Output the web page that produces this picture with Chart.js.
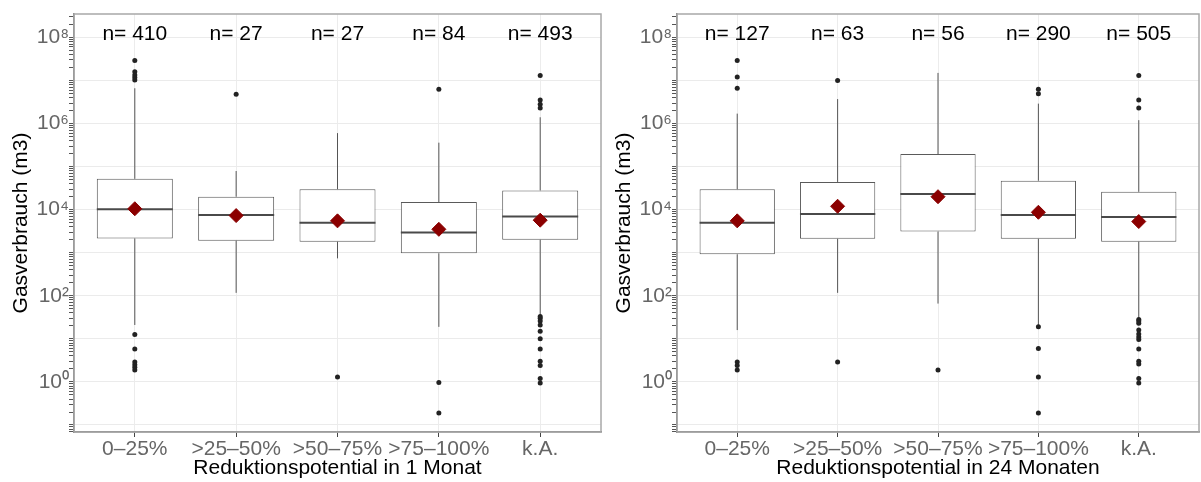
<!DOCTYPE html>
<html>
<head>
<meta charset="utf-8">
<script src="https://cdn.jsdelivr.net/npm/chart.js@4/dist/chart.umd.min.js"></script>
<style>
  body { margin: 0; background: #fff; }
  .panel { position: absolute; top: 0; height: 482px; }
</style>
</head>
<body>
<div class="panel" style="left:0;width:603px"><canvas id="chart1" width="603" height="482"></canvas></div>
<div class="panel" style="left:603px;width:598px"><canvas id="chart2" width="598" height="482"></canvas></div>
<script>
// Kategorien (x-Achse)
const kategorien = ['0–25%', '>25–50%', '>50–75%', '>75–100%', 'k.A.'];
const yDekaden = [1e-1, 1e0, 1e1, 1e2, 1e3, 1e4, 1e5, 1e6, 1e7, 1e8];
const yMin = 0.0687, yMax = 3.5e8;

// Reduktionspotential in 1 Monat
const n1 = [410, 27, 27, 84, 493];
const q1_1 = [2150, 1900, 1800, 970, 2000];
const median1 = [10200, 7500, 5000, 2970, 6900];
const q3_1 = [52000, 20000, 30000, 15000, 28000];
const wUnten1 = [21, 117, 740, 19, 36];
const wOben1 = [6.6e6, 7.9e4, 6.0e5, 3.6e5, 1.4e6];
const mittel1 = [10500, 7300, 5500, 3500, 5700];
const ausreisser1 = [
  [2.9e7, 1.6e7, 1.35e7, 1.17e7, 1.02e7, 12.6, 5.8, 2.9, 2.5, 2.2, 1.9],
  [4.8e6],
  [1.3],
  [6.3e6, 0.97, 0.19],
  [1.3e7, 3.5e6, 2.8e6, 2.3e6, 33, 30, 26, 21, 15, 10, 5.8, 3.0, 2.4, 1.2, 0.95]
];

// Reduktionspotential in 24 Monaten
const n2 = [127, 63, 56, 290, 505];
const q1_2 = [920, 2100, 3100, 2100, 1800];
const median2 = [5000, 7900, 23000, 7500, 6800];
const q3_2 = [30000, 44000, 195000, 47000, 26000];
const wUnten2 = [16, 117, 66, 21, 31];
const wOben2 = [1.7e6, 3.7e6, 1.5e7, 2.9e6, 1.2e6];
const mittel2 = [5500, 12000, 20000, 8700, 5300];
const ausreisser2 = [
  [2.9e7, 1.2e7, 6.6e6, 2.9, 2.4, 1.9],
  [1.0e7, 2.9],
  [1.9],
  [6.3e6, 4.9e6, 19, 6.0, 1.3, 0.19],
  [1.3e7, 3.5e6, 2.3e6, 28, 26, 23, 16, 13, 11, 9.7, 5.8, 3.0, 2.6, 1.2, 0.95]
];

const hoch = ['⁰', '¹', '²', '³', '⁴', '⁵', '⁶', '⁷', '⁸'];
const schrift = "'Liberation Sans', Arial, sans-serif";

function istDekade(v) {
  const l = Math.log10(v);
  return Math.abs(l - Math.round(l)) < 1e-6;
}

// alle Teilstriche der log-Achse (1..9 x 10^n)
function yTeilstriche() {
  let t = [];
  for (let i = 0; i < yDekaden.length; i++) {
    for (let m = 1; m < 10; m++) {
      const v = m * yDekaden[i];
      if (v >= yMin && v <= yMax) t.push({ value: v });
    }
  }
  for (let m = 7; m < 10; m++) {
    const v = m * 0.01;
    if (v >= yMin) t.unshift({ value: v });
  }
  t.sort((a, b) => a.value - b.value);
  return t;
}

// Whisker, Median, n= Beschriftung und Rahmen
const boxPlugin = {
  id: 'boxPlugin',
  afterDatasetDraw(chart, args, opts) {
    if (args.index !== 2) return;
    const ctx = chart.ctx;
    const x = chart.scales.x, y = chart.scales.y;
    const meta = chart.getDatasetMeta(2);
    ctx.save();
    for (let i = 0; i < kategorien.length; i++) {
      const px = x.getPixelForValue(i + 1);
      const bar = meta.data[i];
      ctx.strokeStyle = '#555';
      ctx.lineWidth = 1;
      ctx.beginPath();
      ctx.moveTo(px, y.getPixelForValue(opts.q3[i]));
      ctx.lineTo(px, y.getPixelForValue(opts.wOben[i]));
      ctx.moveTo(px, y.getPixelForValue(opts.q1[i]));
      ctx.lineTo(px, y.getPixelForValue(opts.wUnten[i]));
      ctx.stroke();
      ctx.lineWidth = 2;
      ctx.strokeStyle = '#4a4a4a';
      ctx.beginPath();
      const py = y.getPixelForValue(opts.median[i]);
      ctx.moveTo(px - bar.width / 2, py);
      ctx.lineTo(px + bar.width / 2, py);
      ctx.stroke();
    }
    ctx.restore();
  },
  afterDraw(chart, args, opts) {
    const ctx = chart.ctx;
    const a = chart.chartArea;
    const x = chart.scales.x;
    ctx.save();
    ctx.strokeStyle = '#a8a8a8';
    ctx.lineWidth = 1.5;
    ctx.strokeRect(a.left, a.top, a.right - a.left, a.bottom - a.top);
    ctx.fillStyle = '#000';
    ctx.font = '21px ' + schrift;
    ctx.textAlign = 'center';
    ctx.textBaseline = 'middle';
    for (let i = 0; i < kategorien.length; i++) {
      ctx.fillText('n= ' + opts.n[i], x.getPixelForValue(i + 1), a.top + 20);
    }
    ctx.restore();
  }
};

function zeichne(id, titel, d) {
  const ctx = document.getElementById(id).getContext('2d');
  const ausr = [];
  d.ausreisser.forEach((liste, i) => liste.forEach(v => ausr.push({ x: i + 1, y: v })));
  return new Chart(ctx, {
    type: 'bar',
    data: {
      datasets: [{
        type: 'scatter',
        label: 'Mittelwert',
        data: d.mittel.map((v, i) => ({ x: i + 1, y: v })),
        pointStyle: 'rectRot',
        pointRadius: 7,
        backgroundColor: '#8b0000',
        borderColor: '#8b0000'
      }, {
        type: 'scatter',
        label: 'Ausreißer',
        data: ausr,
        pointRadius: 2.5,
        backgroundColor: '#222',
        borderColor: '#222',
        borderWidth: 0
      }, {
        type: 'bar',
        label: 'Box',
        data: d.q1.map((v, i) => ({ x: i + 1, y: [v, d.q3[i]] })),
        backgroundColor: '#fff',
        borderColor: '#5a5a5a',
        borderWidth: 1,
        borderSkipped: false,
        barPercentage: 0.75,
        categoryPercentage: 1
      }]
    },
    options: {
      responsive: false,
      animation: false,
      layout: { autoPadding: false, padding: { top: 14, right: 2, left: 0, bottom: 0 } },
      plugins: {
        legend: { display: false },
        tooltip: { enabled: false },
        boxPlugin: d
      },
      scales: {
        x: {
          type: 'linear',
          min: 0.4,
          max: 5.6,
          offset: false,
          afterFit: s => { s.height = 50; s.paddingLeft = 0; s.paddingRight = 0; },
          afterBuildTicks: axis => { axis.ticks = [1, 2, 3, 4, 5].map(v => ({ value: v })); },
          ticks: {
            callback: v => kategorien[v - 1],
            color: '#666',
            font: { size: 21, family: schrift },
            padding: 0,
            autoSkip: false,
            maxRotation: 0
          },
          grid: { offset: false, color: '#ececec', tickColor: '#444', tickLength: 5 },
          border: { color: '#777', width: 1.5 },
          title: {
            display: true,
            text: titel,
            color: '#000',
            font: { size: 21, family: schrift },
            padding: { top: 0, bottom: 1 }
          }
        },
        y: {
          type: 'logarithmic',
          min: yMin,
          max: yMax,
          afterFit: s => { s.width = 74; s.paddingTop = 0; s.paddingBottom = 0; },
          afterBuildTicks: axis => { axis.ticks = yTeilstriche(); },
          ticks: {
            autoSkip: false,
            color: '#666',
            font: { size: 21, family: schrift },
            padding: 0,
            callback: v => {
              if (!istDekade(v)) return '';
              const e = Math.round(Math.log10(v));
              if (e < 0 || e % 2 !== 0) return '';
              return '10' + hoch[e];
            }
          },
          grid: {
            color: c => (c.tick && istDekade(c.tick.value)) ? '#ebebeb' : 'rgba(0,0,0,0)',
            tickColor: '#555',
            tickLength: 5
          },
          border: { color: '#777', width: 1.5 },
          title: {
            display: true,
            text: 'Gasverbrauch (m3)',
            color: '#000',
            font: { size: 21, family: schrift },
            padding: { top: 9, bottom: 0 }
          }
        }
      }
    },
    plugins: [boxPlugin]
  });
}

zeichne('chart1', 'Reduktionspotential in 1 Monat', {
  n: n1, q1: q1_1, median: median1, q3: q3_1, wUnten: wUnten1, wOben: wOben1,
  mittel: mittel1, ausreisser: ausreisser1
});
zeichne('chart2', 'Reduktionspotential in 24 Monaten', {
  n: n2, q1: q1_2, median: median2, q3: q3_2, wUnten: wUnten2, wOben: wOben2,
  mittel: mittel2, ausreisser: ausreisser2
});
</script>
</body>
</html>
